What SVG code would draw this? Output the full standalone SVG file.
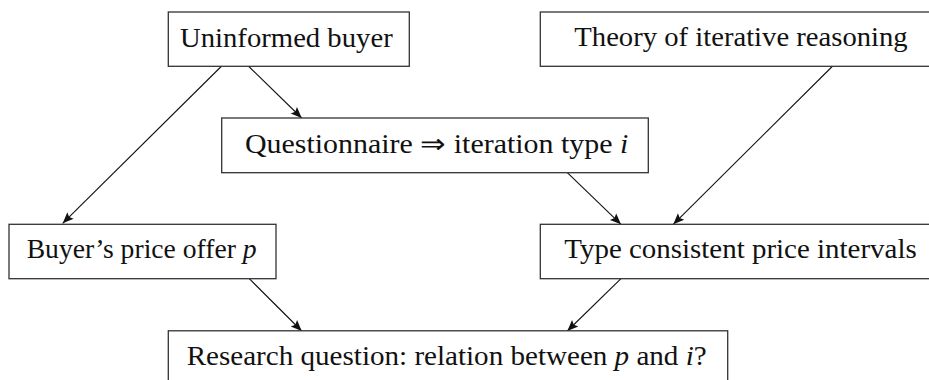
<svg xmlns="http://www.w3.org/2000/svg" width="929" height="380" viewBox="0 0 929 380">
<defs>
<style>
.box{fill:#fff;stroke:#333;stroke-width:1.3}
.t{font-family:"Liberation Serif","Times New Roman",serif;font-size:26.5px;fill:#111}
.m{font-style:italic}
.c{stroke:#111;stroke-width:1.1;fill:none;marker-end:url(#ah)}
</style>
<marker id="ah" markerUnits="userSpaceOnUse" markerWidth="14" markerHeight="12" viewBox="-12 -6 14 12" refX="0" refY="0" orient="auto">
<path d="M-11,-4.5 L0,0 L-11,4.5 L-9,0 z" fill="#111"/>
</marker>
</defs>
<rect width="929" height="380" fill="#fff"/>
<g id="connectors">
<line class="c" x1="221.7" y1="66" x2="62.7" y2="223.3"/>
<line class="c" x1="248.3" y1="66" x2="301.7" y2="118"/>
<line class="c" x1="832.7" y1="66" x2="673.3" y2="224.3"/>
<line class="c" x1="567.3" y1="172.7" x2="621" y2="224.3"/>
<line class="c" x1="249.3" y1="278.7" x2="301.7" y2="331"/>
<line class="c" x1="621" y1="278.7" x2="567.3" y2="331"/>
</g>
<g id="uninformed">
<rect class="box" x="168.3" y="12" width="241" height="54.3"/>
<text class="t" x="180" y="46.7" textLength="212.7" lengthAdjust="spacingAndGlyphs">Uninformed buyer</text>
</g>
<g id="theory">
<rect class="box" x="540.3" y="12" width="402" height="54.3"/>
<text class="t" x="574.3" y="46.2" textLength="333.4" lengthAdjust="spacingAndGlyphs">Theory of iterative reasoning</text>
</g>
<g id="questionnaire">
<rect class="box" x="221.7" y="118" width="426.6" height="54.7"/>
<text class="t" x="245" y="153.3" textLength="383.3" lengthAdjust="spacingAndGlyphs">Questionnaire ⇒ iteration type <tspan class="m">i</tspan></text>
</g>
<g id="buyer">
<rect class="box" x="9" y="224.3" width="267" height="54.4"/>
<text class="t" x="26.7" y="258.3" textLength="230" lengthAdjust="spacingAndGlyphs">Buyer’s price offer <tspan class="m">p</tspan></text>
</g>
<g id="type">
<rect class="box" x="540.3" y="224.3" width="402" height="54.4"/>
<text class="t" x="564.3" y="258.3" textLength="352.4" lengthAdjust="spacingAndGlyphs">Type consistent price intervals</text>
</g>
<g id="research">
<rect class="box" x="168.3" y="330.8" width="559.4" height="54.5"/>
<text class="t" x="186.7" y="365" textLength="520" lengthAdjust="spacingAndGlyphs">Research question: relation between <tspan class="m">p</tspan> and <tspan class="m">i</tspan>?</text>
</g>
</svg>
